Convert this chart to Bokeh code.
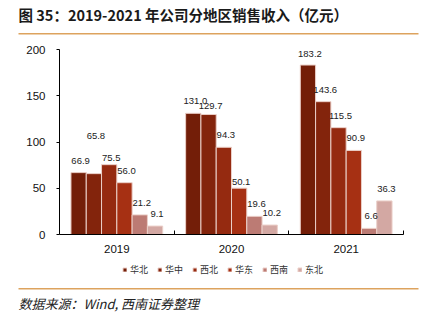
from bokeh.plotting import figure
from bokeh.layouts import column
from bokeh.models import (Range1d, FixedTicker, Label, LabelSet, ColumnDataSource,
                          Legend, LegendItem, BoxAnnotation)
from bokeh.core.properties import value
from bokeh.embed import file_html
from bokeh.resources import INLINE

years = ["2019", "2020", "2021"]
regions = ["华北", "华中", "西北", "华东", "西南", "东北"]
north = [66.9, 131.0, 183.2]
central = [65.8, 129.7, 143.6]
northwest = [75.5, 94.3, 115.5]
east = [56.0, 50.1, 90.9]
southwest = [21.2, 19.6, 6.6]
northeast = [9.1, 10.2, 36.3]
series = [north, central, northwest, east, southwest, northeast]
colors = ["#731E08", "#83240C", "#952A10", "#A63013", "#BC7B74", "#D3A8A3"]
y_ticks = [0, 50, 100, 150, 200]

title_text = "图 35：2019-2021 年公司分地区销售收入（亿元）"
source_text = "数据来源：Wind, 西南证券整理"

# label placement tweaks (pixels above bar top), as in the original
label_offset_default = 12
label_offset_special = {(0, 1): 38, (0, 2): 7, (1, 3): 6.5, (1, 1): 9, (2, 0): 11}

W = 424
RULE = "#DDA35E"
BAR_EDGE = "#EBCFC8"


def blank(h):
    f = figure(width=W, height=h, output_backend="svg", toolbar_location=None,
               x_range=Range1d(0, W), y_range=Range1d(h, 0),
               x_axis_location=None, y_axis_location=None,
               min_border=0, min_border_left=0, min_border_right=0,
               min_border_top=0, min_border_bottom=0)
    f.frame_align = False
    f.grid.visible = False
    f.outline_line_color = None
    f.background_fill_color = "white"
    f.border_fill_color = "white"
    return f


# ---- header ----
TOP_H = 40
head = blank(TOP_H)
head.add_layout(Label(x=18, y=14, text=title_text, text_font="Noto Sans CJK SC",
                      text_font_size="14.5px", text_font_style="bold",
                      text_color="#1a1a1a", text_baseline="middle"))
head.add_layout(BoxAnnotation(left=18, right=418, top=32.5, bottom=34,
                              fill_color=RULE, fill_alpha=1, line_color=None))

# ---- main chart ----
MAIN_H = 222
p = figure(width=W, height=MAIN_H, output_backend="svg", toolbar_location=None,
           x_range=Range1d(0, 3), y_range=Range1d(0, 200),
           min_border_left=59, min_border_right=21,
           min_border_top=9, min_border_bottom=28)
p.frame_align = False
p.background_fill_color = "white"
p.border_fill_color = "white"
p.outline_line_color = None
p.xgrid.visible = False
p.ygrid.visible = False

n = len(regions)
group = 0.8
bw = group / n
sources = []
for k, (reg, vals, col) in enumerate(zip(regions, series, colors)):
    xs = [i + 0.5 - group / 2 + bw * (k + 0.5) for i in range(len(years))]
    offs = [label_offset_special.get((i, k), label_offset_default) for i in range(len(years))]
    src = ColumnDataSource(dict(x=xs, top=vals, lab=[f"{v:.1f}" for v in vals], off=offs))
    sources.append(src)
    p.vbar(x="x", top="top", bottom=0, width=bw, source=src,
           fill_color=col, line_color=BAR_EDGE, line_width=1)
    ls = LabelSet(x="x", y="top", text="lab", source=src, x_offset=2, y_offset="off",
                  text_align="center", text_baseline="middle",
                  text_font=value("Liberation Sans"), text_font_size=value("9.5px"),
                  text_color="#222222")
    p.add_layout(ls)

xa = p.xaxis[0]
xa.ticker = FixedTicker(ticks=[i + 0.5 for i in range(len(years))],
                        minor_ticks=[i + 1 for i in range(len(years))])
xa.major_label_overrides = {i + 0.5: y for i, y in enumerate(years)}
xa.major_tick_in = 0
xa.major_tick_out = 0
xa.minor_tick_in = 4
xa.minor_tick_out = 0
xa.minor_tick_line_color = "black"
xa.axis_line_color = "black"
xa.major_label_text_font = "Liberation Sans"
xa.major_label_text_font_size = "11.5px"
xa.major_label_text_color = "#111111"
xa.major_label_standoff = 10

ya = p.yaxis[0]
ya.ticker = FixedTicker(ticks=y_ticks)
ya.major_tick_in = 0
ya.major_tick_out = 3
ya.minor_tick_in = 0
ya.minor_tick_out = 0
ya.axis_line_color = "black"
ya.major_label_text_font = "Liberation Sans"
ya.major_label_text_font_size = "11.5px"
ya.major_label_text_color = "#111111"
ya.major_label_standoff = 11

# ---- footer: legend, rule, source ----
FOOT_H = 322 - TOP_H - MAIN_H
foot = blank(FOOT_H)
items = []
for reg, col, src in zip(regions, colors, sources):
    # legend swatch renderer (hidden; the bars themselves are in the main chart)
    r = foot.vbar(x="x", top="top", bottom=0, width=bw, source=src, fill_color=col,
                  line_color=BAR_EDGE, line_width=1, visible=False)
    items.append(LegendItem(label=reg, renderers=[r]))
legend = Legend(items=items, orientation="horizontal", location=(122, FOOT_H - 14),
                glyph_width=5, glyph_height=5, label_standoff=3, spacing=7,
                label_height=10, label_text_font="Noto Sans CJK SC",
                label_text_font_size="9px", label_text_color="#333333",
                padding=0, margin=0, border_line_color=None,
                background_fill_alpha=0, inactive_fill_alpha=0)
foot.add_layout(legend, "center")
foot.add_layout(BoxAnnotation(left=18, right=418, top=25.5, bottom=27,
                              fill_color=RULE, fill_alpha=1, line_color=None))
foot.add_layout(Label(x=18, y=41, text=source_text, text_font="Noto Sans CJK SC",
                      text_font_size="13px", text_font_style="italic",
                      text_color="#222222", text_baseline="middle"))

layout = column(head, p, foot, spacing=0)
open("out.html", "w").write(file_html(layout, INLINE))
